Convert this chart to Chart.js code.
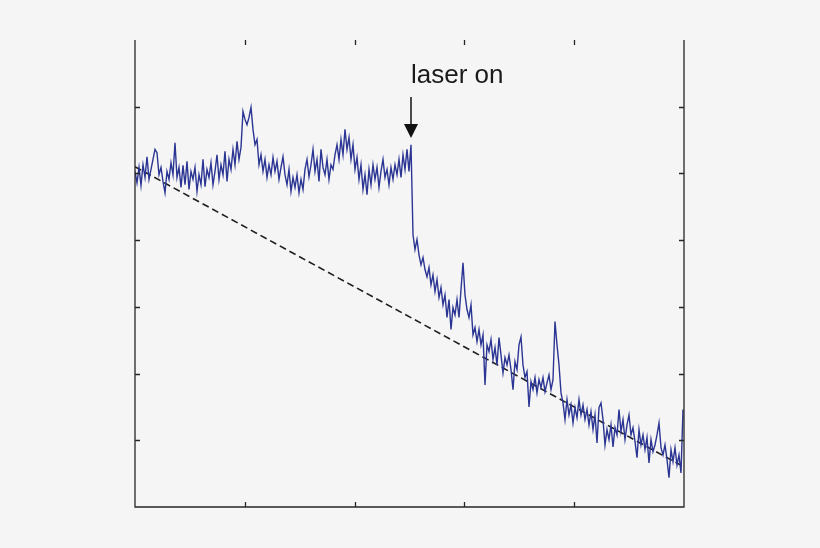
<!DOCTYPE html>
<html>
<head>
<meta charset="utf-8">
<script src="https://cdn.jsdelivr.net/npm/chart.js@4"></script>
<style>
  html, body { margin: 0; padding: 0; background: #f5f5f5; }
  canvas { display: block; }
</style>
</head>
<body>
<canvas id="trace" width="820" height="548"></canvas>
<script>
// signal, one sample every ~2px, y in axis units (0..7)
const signal = [
  5.03, 4.86, 5.09, 4.82, 5.13, 4.94, 5.25, 4.91, 5.06, 5.21,
  5.36, 5.31, 4.98, 5.09, 4.88, 4.71, 5.03, 4.91, 5.16, 4.98,
  5.46, 4.94, 5.09, 4.79, 5.12, 4.83, 5.18, 4.76, 5.03, 4.91,
  5.09, 4.73, 4.98, 4.83, 5.21, 4.80, 5.06, 4.94, 5.16, 4.83,
  5.03, 5.28, 4.91, 5.13, 4.98, 5.33, 4.88, 5.21, 5.06, 5.36,
  5.13, 5.48, 5.21, 5.39, 5.93, 5.81, 5.73, 5.84, 5.99, 5.66,
  5.43, 5.51, 5.13, 5.28, 5.03, 5.21, 4.94, 5.13, 4.98, 5.24,
  5.03, 5.18, 4.91, 5.09, 5.25, 4.98, 4.83, 5.06, 4.73, 4.94,
  4.79, 4.98, 4.71, 4.91, 4.76, 5.06, 5.21, 4.95, 5.13, 5.36,
  5.03, 5.21, 4.88, 5.36, 5.09, 4.98, 5.21, 4.91, 5.13, 5.06,
  5.28, 5.43, 5.21, 5.51, 5.28, 5.66, 5.36, 5.54, 5.21, 5.43,
  5.06, 5.24, 4.91, 5.13, 4.76, 4.98, 4.68, 5.06, 4.83, 5.13,
  4.91, 5.09, 4.79, 5.03, 5.21, 4.94, 5.06, 4.83, 5.09, 4.91,
  5.13, 4.98, 5.21, 4.94, 5.28, 5.06, 5.36, 5.03, 5.43,
  4.08, 3.86, 4.01, 3.78, 3.63, 3.74, 3.56, 3.45, 3.59, 3.33,
  3.48, 3.23, 3.41, 3.14, 3.29, 3.03, 3.18, 2.84, 3.11, 2.66,
  2.99, 2.88, 3.11, 2.84, 3.26, 3.66, 3.18, 2.96, 2.84, 3.03,
  2.58, 2.69, 2.48, 2.66, 2.43, 2.58, 1.83, 2.43, 2.33, 2.51,
  2.21, 2.39, 2.13, 2.54, 2.28, 2.01, 2.24, 2.13, 2.28, 2.06,
  1.76, 2.18, 2.06, 2.43, 2.55, 2.13, 1.94, 2.03, 1.50, 1.88,
  1.76, 1.94, 1.71, 1.91, 1.79, 1.94, 1.73, 1.86, 1.98, 1.76,
  1.91, 2.78, 2.43, 2.13, 1.71, 1.56, 1.31, 1.61, 1.38, 1.53,
  1.26, 1.49, 1.34, 1.61, 1.38, 1.53, 1.31, 1.46, 1.23, 1.43,
  1.16, 1.38, 0.96, 1.49, 1.56, 1.31, 0.93, 1.16, 1.01, 1.23,
  0.90, 1.19, 1.08, 1.46, 1.13, 1.31, 1.01, 1.23, 1.38, 1.08,
  1.19, 0.98, 0.74, 1.16, 0.93, 1.08, 0.86, 1.04, 0.66, 1.01,
  0.83, 0.93, 1.08, 1.26, 0.89, 0.78, 0.93, 0.71, 0.44, 0.86,
  0.68, 0.89, 0.63, 0.78, 0.51, 1.46
]

// dashed baseline: start and end
const baselineX = [0, 274.5]
const baselineY = [5.1, 0.6]

// inner tick positions (no labels in the figure)
const xTicks = [54.9, 109.8, 164.7, 219.6]
const yTicks = [1, 2, 3, 4, 5, 6]

// annotation
const laserIndex = 138
const laserTipY = 5.53
const laserLabel = 'laser on'

const points = signal.map((v, i) => ({ x: i, y: v }))
const baseline = baselineX.map((x, i) => ({ x: x, y: baselineY[i] }))

const boxPlugin = {
    id: 'box',
    afterDraw: chart => {
        const ctx = chart.ctx
        const xs = chart.scales.x
        const ys = chart.scales.y
        const { left, right, top, bottom } = chart.chartArea
        const tick = 5

        ctx.save()
        ctx.strokeStyle = '#262626'
        ctx.lineWidth = 1.3
        ctx.beginPath()
        ctx.moveTo(left, top)
        ctx.lineTo(left, bottom)
        ctx.lineTo(right, bottom)
        ctx.lineTo(right, top)
        xTicks.forEach(t => {
            const px = Math.round(xs.getPixelForValue(t)) + 0.5
            ctx.moveTo(px, bottom); ctx.lineTo(px, bottom - tick)
            ctx.moveTo(px, top); ctx.lineTo(px, top + tick)
        })
        yTicks.forEach(t => {
            const py = Math.round(ys.getPixelForValue(t)) + 0.5
            ctx.moveTo(left, py); ctx.lineTo(left + tick, py)
            ctx.moveTo(right, py); ctx.lineTo(right - tick, py)
        })
        ctx.stroke()

        // arrow + label
        const ax = xs.getPixelForValue(laserIndex)
        const tipY = ys.getPixelForValue(laserTipY)
        ctx.strokeStyle = '#111'
        ctx.fillStyle = '#111'
        ctx.lineWidth = 1.5
        ctx.beginPath()
        ctx.moveTo(ax, tipY - 41)
        ctx.lineTo(ax, tipY - 12)
        ctx.stroke()
        ctx.beginPath()
        ctx.moveTo(ax, tipY)
        ctx.lineTo(ax - 7, tipY - 14)
        ctx.lineTo(ax + 7, tipY - 14)
        ctx.closePath()
        ctx.fill()

        ctx.font = '26px "Liberation Sans", Arial, sans-serif'
        ctx.textAlign = 'left'
        ctx.textBaseline = 'alphabetic'
        ctx.fillStyle = '#1a1a1a'
        ctx.fillText(laserLabel, ax, tipY - 55)
        ctx.restore()
    }
}

new Chart(document.getElementById('trace'), {
    type: 'line',
    data: {
        datasets: [{
            data: points,
            borderColor: '#2b3593',
            borderWidth: 1.4,
            pointRadius: 0,
            tension: 0
        }, {
            data: baseline,
            borderColor: '#1e1e1e',
            borderWidth: 1.6,
            borderDash: [7, 4],
            pointRadius: 0,
            tension: 0
        }]
    },
    options: {
        responsive: false,
        animation: false,
        layout: { padding: { left: 135, right: 136, top: 40, bottom: 41 } },
        plugins: { legend: { display: false }, tooltip: { enabled: false } },
        scales: {
            x: { type: 'linear', min: 0, max: 274.5, display: false },
            y: { type: 'linear', min: 0, max: 7, display: false }
        }
    },
    plugins: [boxPlugin]
})
</script>
</body>
</html>
